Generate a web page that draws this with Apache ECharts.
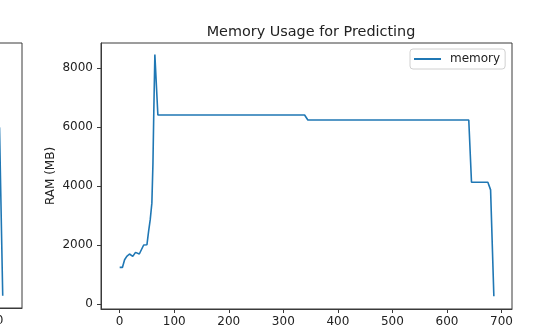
<!DOCTYPE html>
<html>
<head>
<meta charset="utf-8">
<script src="https://cdn.jsdelivr.net/npm/echarts@6/dist/echarts.min.js"></script>
<style>
html,body{margin:0;padding:0;background:#fff;}
#chart{width:542px;height:334px;}
</style>
</head>
<body>
<div id="chart"></div>
<script>
// Main chart data: [step, RAM MB]
const memSteps = [0, 5, 9, 13, 18, 21, 24, 29, 32, 36, 39, 44, 50, 53, 56, 59, 61, 62.5, 64.5, 70, 339, 345, 640, 645, 675, 680, 686];
const memValues = [1250, 1250, 1510, 1625, 1705, 1705, 1625, 1760, 1710, 1705, 1760, 2010, 2020, 2470, 2870, 3430, 4780, 6480, 8470, 6420, 6420, 6250, 6250, 4140, 4140, 3880, 270];
// Partial neighbouring chart (mostly cut off on the left)
const prevSteps = [600, 714, 720];
const prevValues = [5980, 5980, 260];

const xTicks = [0, 100, 200, 300, 400, 500, 600, 700];
const yTicks = [0, 2000, 4000, 6000, 8000];
const prevXTicks = [700];

const title = 'Memory Usage for Predicting';
const yName = 'RAM (MB)';
const seriesName = 'memory';

const font = 'DejaVu Sans';
const axisColor = '#3a3a3a';
const textColor = '#222';

const chart = echarts.init(document.getElementById('chart'), null, {renderer: 'canvas'});

function frameAxis(extra) {
  return Object.assign({
    axisLine: {show: true, onZero: false, lineStyle: {color: axisColor, width: 1}},
    splitLine: {show: false}
  }, extra);
}
const plain = v => String(v);

chart.setOption({
  animation: false,
  backgroundColor: '#fff',
  title: {
    text: title,
    left: 306, top: 20, textAlign: 'center',
    textStyle: {fontFamily: font, fontSize: 14.4, fontWeight: 'normal', color: textColor}
  },
  legend: {
    data: [seriesName],
    left: 410, top: 49,
    padding: [4, 5, 4, 4],
    itemWidth: 27, itemHeight: 2,
    icon: 'rect',
    backgroundColor: 'rgba(255,255,255,0.8)',
    borderColor: '#d0d0d0', borderWidth: 1, borderRadius: 3,
    textStyle: {fontFamily: font, fontSize: 12, color: textColor, padding: [0, 0, 0, 4]}
  },
  grid: [
    {left: 101, right: 30, top: 43, bottom: 25, show: true, borderColor: axisColor, borderWidth: 1, backgroundColor: 'transparent', outerBoundsMode: 'none', containLabel: false},
    {left: -402, width: 424, top: 43, bottom: 26, show: true, borderColor: axisColor, borderWidth: 1, backgroundColor: 'transparent', outerBoundsMode: 'none', containLabel: false}
  ],
  xAxis: [
    frameAxis({
      type: 'value', gridIndex: 0, min: -34.25, max: 719.25,
      axisTick: {show: true, length: 4, customValues: xTicks, lineStyle: {color: axisColor}},
      axisLabel: {customValues: xTicks, formatter: plain, margin: 7, fontFamily: font, fontSize: 12, color: textColor}
    }),
    frameAxis({
      type: 'value', gridIndex: 1, min: -36, max: 756,
      axisTick: {show: true, length: 4, customValues: prevXTicks, lineStyle: {color: axisColor}},
      axisLabel: {customValues: prevXTicks, formatter: plain, margin: 7, fontFamily: font, fontSize: 12, color: textColor}
    })
  ],
  yAxis: [
    frameAxis({
      type: 'value', gridIndex: 0, min: -160, max: 8860,
      name: yName, nameLocation: 'middle', nameGap: 44, nameRotate: 90, nameMoveOverlap: false,
      nameTextStyle: {fontFamily: font, fontSize: 12, color: textColor},
      axisTick: {show: true, length: 4, customValues: yTicks, lineStyle: {color: axisColor}},
      axisLabel: {customValues: yTicks, formatter: plain, margin: 8, fontFamily: font, fontSize: 12, color: textColor}
    }),
    frameAxis({
      type: 'value', gridIndex: 1, min: -160, max: 8860,
      axisTick: {show: false}, axisLabel: {show: false}
    })
  ],
  series: [
    {
      name: seriesName, type: 'line', xAxisIndex: 0, yAxisIndex: 0,
      data: memSteps.map((s, i) => [s, memValues[i]]),
      showSymbol: false, symbol: 'none',
      lineStyle: {color: '#1f77b4', width: 1.6},
      itemStyle: {color: '#1f77b4'}
    },
    {
      name: 'prev', type: 'line', xAxisIndex: 1, yAxisIndex: 1,
      data: prevSteps.map((s, i) => [s, prevValues[i]]),
      showSymbol: false, symbol: 'none',
      lineStyle: {color: '#1f77b4', width: 1.6}
    }
  ]
});
</script>
</body>
</html>
